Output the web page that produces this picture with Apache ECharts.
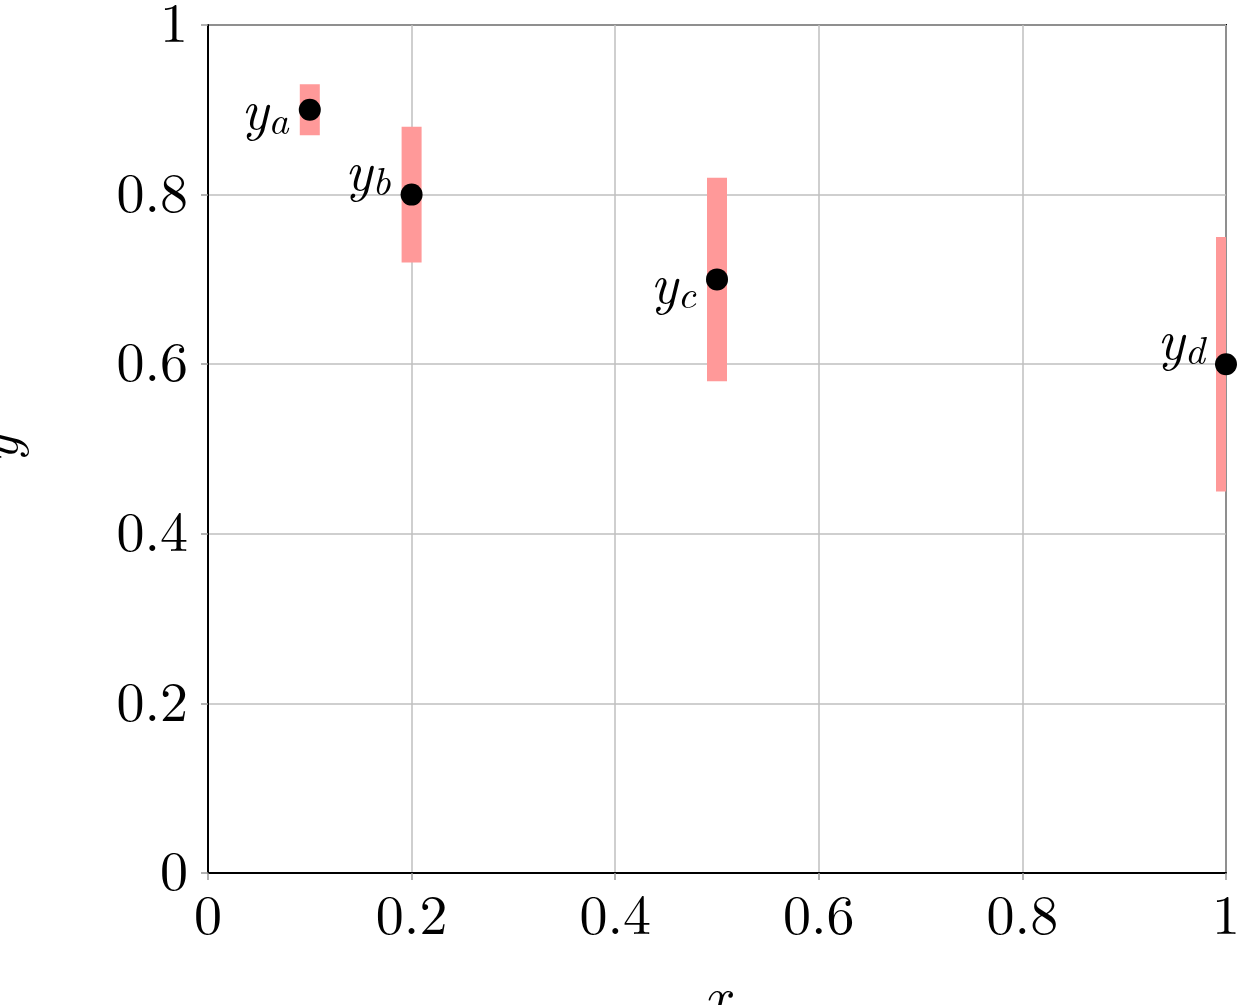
<!DOCTYPE html>
<html>
<head>
<meta charset="utf-8">
<script src="https://cdn.jsdelivr.net/npm/echarts@6/dist/echarts.min.js"></script>
<style>html,body{margin:0;padding:0;background:#fff}</style>
</head>
<body>
<div id="main" style="width:1244px;height:1005px;"></div>
<script>
var xs = [0.1, 0.2, 0.5, 1.0];
var ys = [0.9, 0.8, 0.7, 0.6];
var errs = [0.03, 0.08, 0.12, 0.15];
var names = ['a', 'b', 'c', 'd'];
var tickLabels = { 0: '0', 0.2: '0.2', 0.4: '0.4', 0.6: '0.6', 0.8: '0.8', 1: '1' };
var labelOffsets = [[-2, 2], [-2, -22], [-2, 6], [-2, -22]];

var serif = 'Latin Modern Roman, DejaVu Serif, Liberation Serif, serif';
var myChart = echarts.init(document.getElementById('main'));
var option = {
    animation: false,
    grid: { left: 208, right: 18, top: 25, bottom: 132, containLabel: false, outerBoundsMode: 'none',
        show: true, borderColor: '#000', borderWidth: 2 },
    xAxis: {
        type: 'value', min: 0, max: 1, interval: 0.2,
        name: 'x', nameLocation: 'middle', nameGap: 98,
        nameTextStyle: { fontFamily: serif, fontStyle: 'italic', fontSize: 56, color: '#000' },
        axisLine: { show: true, onZero: false, lineStyle: { color: '#000', width: 2 } },
        axisTick: { show: true, length: 7, lineStyle: { color: '#999', width: 1.5 } },
        axisLabel: { fontFamily: serif, fontSize: 56, color: '#000', margin: 16,
            formatter: function (v) { return tickLabels[v]; } },
        splitLine: { show: true, lineStyle: { color: '#bfbfbf', width: 1.5 } }
    },
    yAxis: {
        type: 'value', min: 0, max: 1, interval: 0.2,
        name: 'y', nameLocation: 'middle', nameGap: 180, nameRotate: 90,
        nameTextStyle: { fontFamily: serif, fontStyle: 'italic', fontSize: 56, color: '#000' },
        axisLine: { show: true, onZero: false, lineStyle: { color: '#000', width: 2 } },
        axisTick: { show: true, length: 7, lineStyle: { color: '#999', width: 1.5 } },
        axisLabel: { fontFamily: serif, fontSize: 56, color: '#000', margin: 20,
            formatter: function (v) { return tickLabels[v]; } },
        splitLine: { show: true, lineStyle: { color: '#bfbfbf', width: 1.5 } }
    },
    series: [
        {
            type: 'custom', clip: true,
            data: xs.map(function (x, i) { return [x, ys[i] - errs[i], ys[i] + errs[i]]; }),
            renderItem: function (params, api) {
                var lo = api.coord([api.value(0), api.value(1)]);
                var hi = api.coord([api.value(0), api.value(2)]);
                var r = echarts.graphic.clipRectByRect(
                    { x: lo[0] - 10, y: hi[1], width: 20, height: lo[1] - hi[1] },
                    params.coordSys);
                return r && { type: 'rect', shape: r, style: { fill: '#ff9999' } };
            }
        },
        {
            type: 'scatter', clip: false, symbolSize: 22,
            itemStyle: { color: '#000', opacity: 1 },
            data: xs.map(function (x, i) {
                return {
                    value: [x, ys[i]],
                    label: {
                        show: true, position: 'left', distance: 8, offset: labelOffsets[i], color: '#000',
                        formatter: '{i|y}{s|' + names[i] + '}',
                        rich: {
                            i: { fontFamily: serif, fontStyle: 'italic', fontSize: 56, color: '#000' },
                            s: { fontFamily: serif, fontStyle: 'italic', fontSize: 40, color: '#000', padding: [20, 0, 0, 0] }
                        }
                    }
                };
            })
        }
    ]
};
myChart.setOption(option);
</script>
</body>
</html>
